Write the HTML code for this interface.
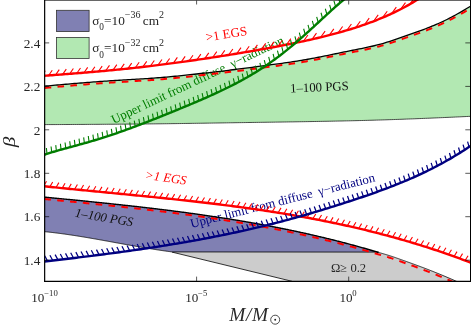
<!DOCTYPE html><html><head><meta charset="utf-8"><style>html,body{margin:0;padding:0;background:#fff}svg{display:block;will-change:transform}</style></head><body><svg width="471" height="327" viewBox="0 0 471 327">
<defs><clipPath id="c"><rect x="44.5" y="0" width="426.0" height="281.3"/></clipPath><mask id="tm"><rect width="471" height="327" fill="#fff"/></mask></defs>
<rect width="471" height="327" fill="#fff"/>
<g clip-path="url(#c)">
<path d="M44.50,86.20 L46.64,86.00 L48.78,85.80 L50.92,85.60 L53.06,85.40 L55.20,85.21 L57.34,85.02 L59.48,84.82 L61.63,84.63 L63.77,84.44 L65.91,84.25 L68.05,84.07 L70.19,83.88 L72.33,83.70 L74.47,83.52 L76.61,83.34 L78.75,83.16 L80.89,82.99 L83.03,82.81 L85.17,82.64 L87.31,82.47 L89.45,82.30 L91.60,82.13 L93.74,81.97 L95.88,81.81 L98.02,81.65 L100.16,81.49 L102.30,81.33 L104.44,81.18 L106.58,81.04 L108.72,80.89 L110.86,80.76 L113.00,80.62 L115.14,80.49 L117.28,80.35 L119.42,80.23 L121.57,80.10 L123.71,79.97 L125.85,79.84 L127.99,79.72 L130.13,79.59 L132.27,79.47 L134.41,79.34 L136.55,79.21 L138.69,79.08 L140.83,78.95 L142.97,78.81 L145.11,78.67 L147.25,78.53 L149.39,78.39 L151.54,78.24 L153.68,78.08 L155.82,77.92 L157.96,77.76 L160.10,77.59 L162.24,77.42 L164.38,77.24 L166.52,77.05 L168.66,76.86 L170.80,76.66 L172.94,76.46 L175.08,76.25 L177.22,76.04 L179.36,75.83 L181.51,75.61 L183.65,75.39 L185.79,75.17 L187.93,74.94 L190.07,74.71 L192.21,74.47 L194.35,74.24 L196.49,74.00 L198.63,73.76 L200.77,73.52 L202.91,73.27 L205.05,73.03 L207.19,72.78 L209.33,72.53 L211.47,72.29 L213.62,72.04 L215.76,71.79 L217.90,71.54 L220.04,71.30 L222.18,71.05 L224.32,70.79 L226.46,70.54 L228.60,70.28 L230.74,70.02 L232.88,69.75 L235.02,69.49 L237.16,69.22 L239.30,68.94 L241.44,68.67 L243.59,68.39 L245.73,68.12 L247.87,67.84 L250.01,67.56 L252.15,67.28 L254.29,66.99 L256.43,66.71 L258.57,66.42 L260.71,66.14 L262.85,65.86 L264.99,65.58 L267.13,65.29 L269.27,65.01 L271.41,64.73 L273.56,64.44 L275.70,64.16 L277.84,63.87 L279.98,63.57 L282.12,63.28 L284.26,62.98 L286.40,62.67 L288.54,62.36 L290.68,62.05 L292.82,61.73 L294.96,61.40 L297.10,61.06 L299.24,60.72 L301.38,60.37 L303.53,60.01 L305.67,59.64 L307.81,59.26 L309.95,58.87 L312.09,58.48 L314.23,58.07 L316.37,57.66 L318.51,57.24 L320.65,56.82 L322.79,56.39 L324.93,55.96 L327.07,55.53 L329.21,55.09 L331.35,54.65 L333.49,54.20 L335.64,53.76 L337.78,53.32 L339.92,52.87 L342.06,52.43 L344.20,51.98 L346.34,51.54 L348.48,51.10 L350.62,50.67 L352.76,50.24 L354.90,49.82 L357.04,49.39 L359.18,48.97 L361.32,48.54 L363.46,48.10 L365.61,47.66 L367.75,47.20 L369.89,46.73 L372.03,46.25 L374.17,45.75 L376.31,45.23 L378.45,44.68 L380.59,44.11 L382.73,43.51 L384.87,42.88 L387.01,42.23 L389.15,41.56 L391.29,40.87 L393.43,40.16 L395.58,39.43 L397.72,38.70 L399.86,37.96 L402.00,37.21 L404.14,36.46 L406.28,35.70 L408.42,34.95 L410.56,34.20 L412.70,33.45 L414.84,32.69 L416.98,31.92 L419.12,31.15 L421.26,30.36 L423.40,29.57 L425.55,28.76 L427.69,27.93 L429.83,27.09 L431.97,26.22 L434.11,25.34 L436.25,24.43 L438.39,23.50 L440.53,22.53 L442.67,21.54 L444.81,20.52 L446.95,19.46 L449.09,18.38 L451.23,17.27 L453.37,16.14 L455.52,14.97 L457.66,13.79 L459.80,12.58 L461.94,11.34 L464.08,10.09 L466.22,8.81 L468.36,7.51 L470.50,6.19 L470.50,116.32 L468.36,116.43 L466.22,116.53 L464.08,116.63 L461.94,116.73 L459.80,116.83 L457.66,116.93 L455.52,117.03 L453.37,117.13 L451.23,117.22 L449.09,117.32 L446.95,117.42 L444.81,117.51 L442.67,117.61 L440.53,117.70 L438.39,117.79 L436.25,117.89 L434.11,117.98 L431.97,118.07 L429.83,118.16 L427.69,118.25 L425.55,118.34 L423.40,118.43 L421.26,118.51 L419.12,118.60 L416.98,118.68 L414.84,118.77 L412.70,118.85 L410.56,118.93 L408.42,119.01 L406.28,119.09 L404.14,119.17 L402.00,119.25 L399.86,119.33 L397.72,119.41 L395.58,119.48 L393.43,119.55 L391.29,119.63 L389.15,119.70 L387.01,119.77 L384.87,119.84 L382.73,119.91 L380.59,119.97 L378.45,120.04 L376.31,120.10 L374.17,120.17 L372.03,120.23 L369.89,120.29 L367.75,120.35 L365.61,120.41 L363.46,120.47 L361.32,120.52 L359.18,120.57 L357.04,120.63 L354.90,120.68 L352.76,120.73 L350.62,120.78 L348.48,120.83 L346.34,120.87 L344.20,120.92 L342.06,120.97 L339.92,121.01 L337.78,121.06 L335.64,121.10 L333.49,121.14 L331.35,121.19 L329.21,121.23 L327.07,121.27 L324.93,121.31 L322.79,121.35 L320.65,121.39 L318.51,121.43 L316.37,121.47 L314.23,121.50 L312.09,121.54 L309.95,121.58 L307.81,121.61 L305.67,121.65 L303.53,121.69 L301.38,121.72 L299.24,121.76 L297.10,121.79 L294.96,121.82 L292.82,121.86 L290.68,121.89 L288.54,121.92 L286.40,121.96 L284.26,121.99 L282.12,122.02 L279.98,122.05 L277.84,122.09 L275.70,122.12 L273.56,122.15 L271.41,122.18 L269.27,122.21 L267.13,122.24 L264.99,122.28 L262.85,122.31 L260.71,122.34 L258.57,122.37 L256.43,122.40 L254.29,122.43 L252.15,122.46 L250.01,122.49 L247.87,122.52 L245.73,122.56 L243.59,122.59 L241.44,122.62 L239.30,122.65 L237.16,122.68 L235.02,122.71 L232.88,122.75 L230.74,122.78 L228.60,122.81 L226.46,122.84 L224.32,122.88 L222.18,122.91 L220.04,122.94 L217.90,122.98 L215.76,123.01 L213.62,123.04 L211.47,123.08 L209.33,123.11 L207.19,123.14 L205.05,123.17 L202.91,123.21 L200.77,123.24 L198.63,123.27 L196.49,123.30 L194.35,123.33 L192.21,123.37 L190.07,123.40 L187.93,123.43 L185.79,123.46 L183.65,123.49 L181.51,123.52 L179.36,123.55 L177.22,123.58 L175.08,123.61 L172.94,123.64 L170.80,123.66 L168.66,123.69 L166.52,123.72 L164.38,123.74 L162.24,123.77 L160.10,123.80 L157.96,123.82 L155.82,123.84 L153.68,123.87 L151.54,123.89 L149.39,123.91 L147.25,123.93 L145.11,123.95 L142.97,123.97 L140.83,123.99 L138.69,124.01 L136.55,124.03 L134.41,124.05 L132.27,124.07 L130.13,124.08 L127.99,124.10 L125.85,124.12 L123.71,124.14 L121.57,124.15 L119.42,124.17 L117.28,124.19 L115.14,124.20 L113.00,124.22 L110.86,124.24 L108.72,124.25 L106.58,124.27 L104.44,124.29 L102.30,124.30 L100.16,124.32 L98.02,124.33 L95.88,124.35 L93.74,124.36 L91.60,124.37 L89.45,124.39 L87.31,124.40 L85.17,124.42 L83.03,124.43 L80.89,124.44 L78.75,124.45 L76.61,124.47 L74.47,124.48 L72.33,124.49 L70.19,124.50 L68.05,124.51 L65.91,124.52 L63.77,124.53 L61.63,124.54 L59.48,124.55 L57.34,124.56 L55.20,124.57 L53.06,124.57 L50.92,124.58 L48.78,124.59 L46.64,124.59 L44.50,124.60Z" fill="#b2e8b2" stroke="none"/>
<path d="M44.50,124.60 L46.64,124.59 L48.78,124.59 L50.92,124.58 L53.06,124.57 L55.20,124.57 L57.34,124.56 L59.48,124.55 L61.63,124.54 L63.77,124.53 L65.91,124.52 L68.05,124.51 L70.19,124.50 L72.33,124.49 L74.47,124.48 L76.61,124.47 L78.75,124.45 L80.89,124.44 L83.03,124.43 L85.17,124.42 L87.31,124.40 L89.45,124.39 L91.60,124.37 L93.74,124.36 L95.88,124.35 L98.02,124.33 L100.16,124.32 L102.30,124.30 L104.44,124.29 L106.58,124.27 L108.72,124.25 L110.86,124.24 L113.00,124.22 L115.14,124.20 L117.28,124.19 L119.42,124.17 L121.57,124.15 L123.71,124.14 L125.85,124.12 L127.99,124.10 L130.13,124.08 L132.27,124.07 L134.41,124.05 L136.55,124.03 L138.69,124.01 L140.83,123.99 L142.97,123.97 L145.11,123.95 L147.25,123.93 L149.39,123.91 L151.54,123.89 L153.68,123.87 L155.82,123.84 L157.96,123.82 L160.10,123.80 L162.24,123.77 L164.38,123.74 L166.52,123.72 L168.66,123.69 L170.80,123.66 L172.94,123.64 L175.08,123.61 L177.22,123.58 L179.36,123.55 L181.51,123.52 L183.65,123.49 L185.79,123.46 L187.93,123.43 L190.07,123.40 L192.21,123.37 L194.35,123.33 L196.49,123.30 L198.63,123.27 L200.77,123.24 L202.91,123.21 L205.05,123.17 L207.19,123.14 L209.33,123.11 L211.47,123.08 L213.62,123.04 L215.76,123.01 L217.90,122.98 L220.04,122.94 L222.18,122.91 L224.32,122.88 L226.46,122.84 L228.60,122.81 L230.74,122.78 L232.88,122.75 L235.02,122.71 L237.16,122.68 L239.30,122.65 L241.44,122.62 L243.59,122.59 L245.73,122.56 L247.87,122.52 L250.01,122.49 L252.15,122.46 L254.29,122.43 L256.43,122.40 L258.57,122.37 L260.71,122.34 L262.85,122.31 L264.99,122.28 L267.13,122.24 L269.27,122.21 L271.41,122.18 L273.56,122.15 L275.70,122.12 L277.84,122.09 L279.98,122.05 L282.12,122.02 L284.26,121.99 L286.40,121.96 L288.54,121.92 L290.68,121.89 L292.82,121.86 L294.96,121.82 L297.10,121.79 L299.24,121.76 L301.38,121.72 L303.53,121.69 L305.67,121.65 L307.81,121.61 L309.95,121.58 L312.09,121.54 L314.23,121.50 L316.37,121.47 L318.51,121.43 L320.65,121.39 L322.79,121.35 L324.93,121.31 L327.07,121.27 L329.21,121.23 L331.35,121.19 L333.49,121.14 L335.64,121.10 L337.78,121.06 L339.92,121.01 L342.06,120.97 L344.20,120.92 L346.34,120.87 L348.48,120.83 L350.62,120.78 L352.76,120.73 L354.90,120.68 L357.04,120.63 L359.18,120.57 L361.32,120.52 L363.46,120.47 L365.61,120.41 L367.75,120.35 L369.89,120.29 L372.03,120.23 L374.17,120.17 L376.31,120.10 L378.45,120.04 L380.59,119.97 L382.73,119.91 L384.87,119.84 L387.01,119.77 L389.15,119.70 L391.29,119.63 L393.43,119.55 L395.58,119.48 L397.72,119.41 L399.86,119.33 L402.00,119.25 L404.14,119.17 L406.28,119.09 L408.42,119.01 L410.56,118.93 L412.70,118.85 L414.84,118.77 L416.98,118.68 L419.12,118.60 L421.26,118.51 L423.40,118.43 L425.55,118.34 L427.69,118.25 L429.83,118.16 L431.97,118.07 L434.11,117.98 L436.25,117.89 L438.39,117.79 L440.53,117.70 L442.67,117.61 L444.81,117.51 L446.95,117.42 L449.09,117.32 L451.23,117.22 L453.37,117.13 L455.52,117.03 L457.66,116.93 L459.80,116.83 L461.94,116.73 L464.08,116.63 L466.22,116.53 L468.36,116.43 L470.50,116.32" fill="none" stroke="#222" stroke-width="0.8"/>
<path d="M172,252.1 L378.6,252.1 L378.60,252.47 L379.59,252.73 L380.58,253.01 L381.58,253.28 L382.57,253.56 L383.56,253.85 L384.55,254.14 L385.55,254.43 L386.54,254.73 L387.53,255.03 L388.52,255.34 L389.52,255.65 L390.51,255.96 L391.50,256.28 L392.49,256.61 L393.49,256.94 L394.48,257.28 L395.47,257.63 L396.46,257.97 L397.46,258.32 L398.45,258.68 L399.44,259.03 L400.43,259.38 L401.43,259.74 L402.42,260.09 L403.41,260.45 L404.40,260.80 L405.39,261.15 L406.39,261.51 L407.38,261.86 L408.37,262.22 L409.36,262.57 L410.36,262.93 L411.35,263.29 L412.34,263.65 L413.33,264.01 L414.33,264.37 L415.32,264.73 L416.31,265.10 L417.30,265.46 L418.30,265.83 L419.29,266.20 L420.28,266.57 L421.27,266.94 L422.27,267.31 L423.26,267.68 L424.25,268.06 L425.24,268.44 L426.24,268.82 L427.23,269.20 L428.22,269.59 L429.21,269.97 L430.21,270.36 L431.20,270.75 L432.19,271.14 L433.18,271.54 L434.17,271.93 L435.17,272.33 L436.16,272.73 L437.15,273.14 L438.14,273.54 L439.14,273.95 L440.13,274.35 L441.12,274.76 L442.11,275.17 L443.11,275.59 L444.10,276.00 L445.09,276.42 L446.08,276.84 L447.08,277.25 L448.07,277.68 L449.06,278.10 L450.05,278.52 L451.05,278.95 L452.04,279.38 L453.03,279.82 L454.02,280.26 L455.02,280.71 L456.01,281.15 L457.00,281.60 L457,281.3 L292,281.3 L292.00,281.30 L172.00,252.10Z" fill="#cccccc" stroke="none"/>
<path d="M172.00,252.10 L292.00,281.30" fill="none" stroke="#000" stroke-width="0.8"/>
<path d="M44.50,197.11 L45.34,197.20 L46.17,197.28 L47.01,197.36 L47.85,197.44 L48.69,197.52 L49.52,197.60 L50.36,197.69 L51.20,197.77 L52.04,197.85 L52.87,197.93 L53.71,198.01 L54.55,198.09 L55.39,198.18 L56.22,198.26 L57.06,198.34 L57.90,198.42 L58.73,198.50 L59.57,198.59 L60.41,198.67 L61.25,198.75 L62.08,198.83 L62.92,198.91 L63.76,199.00 L64.60,199.08 L65.43,199.16 L66.27,199.24 L67.11,199.33 L67.95,199.41 L68.78,199.49 L69.62,199.57 L70.46,199.66 L71.29,199.74 L72.13,199.82 L72.97,199.90 L73.81,199.99 L74.64,200.07 L75.48,200.15 L76.32,200.24 L77.16,200.32 L77.99,200.40 L78.83,200.49 L79.67,200.57 L80.51,200.65 L81.34,200.74 L82.18,200.82 L83.02,200.90 L83.86,200.99 L84.69,201.07 L85.53,201.16 L86.37,201.24 L87.20,201.32 L88.04,201.41 L88.88,201.49 L89.72,201.58 L90.55,201.66 L91.39,201.75 L92.23,201.83 L93.07,201.92 L93.90,202.00 L94.74,202.09 L95.58,202.18 L96.42,202.26 L97.25,202.35 L98.09,202.43 L98.93,202.52 L99.76,202.61 L100.60,202.69 L101.44,202.78 L102.28,202.87 L103.11,202.95 L103.95,203.04 L104.79,203.13 L105.63,203.21 L106.46,203.30 L107.30,203.39 L108.14,203.48 L108.98,203.56 L109.81,203.65 L110.65,203.74 L111.49,203.83 L112.32,203.92 L113.16,204.01 L114.00,204.10 L114.84,204.18 L115.67,204.27 L116.51,204.36 L117.35,204.45 L118.19,204.54 L119.02,204.63 L119.86,204.72 L120.70,204.81 L121.54,204.91 L122.37,205.00 L123.21,205.09 L124.05,205.18 L124.88,205.27 L125.72,205.36 L126.56,205.45 L127.40,205.55 L128.23,205.64 L129.07,205.73 L129.91,205.82 L130.75,205.92 L131.58,206.01 L132.42,206.10 L133.26,206.20 L134.10,206.29 L134.93,206.38 L135.77,206.48 L136.61,206.57 L137.45,206.67 L138.28,206.76 L139.12,206.86 L139.96,206.95 L140.79,207.05 L141.63,207.15 L142.47,207.24 L143.31,207.34 L144.14,207.44 L144.98,207.53 L145.82,207.63 L146.66,207.73 L147.49,207.83 L148.33,207.92 L149.17,208.02 L150.01,208.12 L150.84,208.22 L151.68,208.32 L152.52,208.42 L153.35,208.52 L154.19,208.62 L155.03,208.72 L155.87,208.82 L156.70,208.92 L157.54,209.02 L158.38,209.12 L159.22,209.22 L160.05,209.33 L160.89,209.43 L161.73,209.53 L162.57,209.63 L163.40,209.74 L164.24,209.84 L165.08,209.94 L165.91,210.05 L166.75,210.15 L167.59,210.26 L168.43,210.36 L169.26,210.47 L170.10,210.57 L170.94,210.68 L171.78,210.79 L172.61,210.89 L173.45,211.00 L174.29,211.11 L175.13,211.22 L175.96,211.32 L176.80,211.43 L177.64,211.54 L178.47,211.65 L179.31,211.76 L180.15,211.87 L180.99,211.98 L181.82,212.09 L182.66,212.20 L183.50,212.31 L184.34,212.42 L185.17,212.54 L186.01,212.65 L186.85,212.76 L187.69,212.87 L188.52,212.99 L189.36,213.10 L190.20,213.21 L191.04,213.33 L191.87,213.44 L192.71,213.56 L193.55,213.67 L194.38,213.79 L195.22,213.91 L196.06,214.02 L196.90,214.14 L197.73,214.26 L198.57,214.38 L199.41,214.49 L200.25,214.61 L201.08,214.73 L201.92,214.85 L202.76,214.97 L203.60,215.09 L204.43,215.21 L205.27,215.33 L206.11,215.46 L206.94,215.58 L207.78,215.70 L208.62,215.82 L209.46,215.95 L210.29,216.07 L211.13,216.19 L211.97,216.32 L212.81,216.44 L213.64,216.57 L214.48,216.69 L215.32,216.82 L216.16,216.95 L216.99,217.07 L217.83,217.20 L218.67,217.33 L219.50,217.46 L220.34,217.59 L221.18,217.72 L222.02,217.85 L222.85,217.98 L223.69,218.11 L224.53,218.24 L225.37,218.37 L226.20,218.50 L227.04,218.64 L227.88,218.77 L228.72,218.90 L229.55,219.04 L230.39,219.17 L231.23,219.31 L232.06,219.44 L232.90,219.58 L233.74,219.71 L234.58,219.85 L235.41,219.99 L236.25,220.13 L237.09,220.26 L237.93,220.40 L238.76,220.54 L239.60,220.68 L240.44,220.82 L241.28,220.96 L242.11,221.10 L242.95,221.25 L243.79,221.39 L244.63,221.53 L245.46,221.67 L246.30,221.82 L247.14,221.96 L247.97,222.11 L248.81,222.25 L249.65,222.40 L250.49,222.55 L251.32,222.69 L252.16,222.84 L253.00,222.99 L253.84,223.14 L254.67,223.29 L255.51,223.44 L256.35,223.59 L257.19,223.74 L258.02,223.89 L258.86,224.04 L259.70,224.19 L260.53,224.35 L261.37,224.50 L262.21,224.65 L263.05,224.81 L263.88,224.96 L264.72,225.12 L265.56,225.28 L266.40,225.43 L267.23,225.59 L268.07,225.75 L268.91,225.91 L269.75,226.07 L270.58,226.23 L271.42,226.39 L272.26,226.55 L273.09,226.71 L273.93,226.87 L274.77,227.03 L275.61,227.20 L276.44,227.36 L277.28,227.53 L278.12,227.69 L278.96,227.86 L279.79,228.02 L280.63,228.19 L281.47,228.36 L282.31,228.52 L283.14,228.69 L283.98,228.86 L284.82,229.03 L285.65,229.20 L286.49,229.37 L287.33,229.55 L288.17,229.72 L289.00,229.89 L289.84,230.07 L290.68,230.24 L291.52,230.41 L292.35,230.59 L293.19,230.77 L294.03,230.94 L294.87,231.12 L295.70,231.30 L296.54,231.48 L297.38,231.66 L298.22,231.84 L299.05,232.02 L299.89,232.20 L300.73,232.38 L301.56,232.56 L302.40,232.75 L303.24,232.93 L304.08,233.12 L304.91,233.30 L305.75,233.49 L306.59,233.67 L307.43,233.86 L308.26,234.05 L309.10,234.24 L309.94,234.43 L310.78,234.62 L311.61,234.81 L312.45,235.00 L313.29,235.19 L314.12,235.38 L314.96,235.58 L315.80,235.77 L316.64,235.97 L317.47,236.16 L318.31,236.36 L319.15,236.56 L319.99,236.75 L320.82,236.95 L321.66,237.15 L322.50,237.35 L323.34,237.55 L324.17,237.75 L325.01,237.95 L325.85,238.16 L326.68,238.36 L327.52,238.56 L328.36,238.77 L329.20,238.97 L330.03,239.18 L330.87,239.39 L331.71,239.60 L332.55,239.80 L333.38,240.01 L334.22,240.22 L335.06,240.43 L335.90,240.65 L336.73,240.86 L337.57,241.07 L338.41,241.28 L339.24,241.50 L340.08,241.71 L340.92,241.93 L341.76,242.15 L342.59,242.36 L343.43,242.58 L344.27,242.80 L345.11,243.02 L345.94,243.24 L346.78,243.46 L347.62,243.68 L348.46,243.91 L349.29,244.13 L350.13,244.36 L350.97,244.58 L351.81,244.81 L352.64,245.03 L353.48,245.26 L354.32,245.49 L355.15,245.72 L355.99,245.95 L356.83,246.18 L357.67,246.41 L358.50,246.64 L359.34,246.88 L360.18,247.11 L361.02,247.35 L361.85,247.58 L362.69,247.82 L363.53,248.05 L364.37,248.29 L365.20,248.53 L366.04,248.77 L366.88,249.01 L367.71,249.25 L368.55,249.50 L369.39,249.74 L370.23,249.98 L371.06,250.23 L371.90,250.47 L372.74,250.72 L373.58,250.97 L374.41,251.21 L375.25,251.46 L376.09,251.71 L376.93,251.96 L377.76,252.21 L378.60,252.47 L378.6,252.1 L172,252.1 L172.00,251.91 L171.36,251.82 L170.72,251.74 L170.08,251.65 L169.44,251.57 L168.80,251.48 L168.16,251.40 L167.52,251.31 L166.87,251.22 L166.23,251.13 L165.59,251.04 L164.95,250.95 L164.31,250.86 L163.67,250.77 L163.03,250.68 L162.39,250.58 L161.75,250.49 L161.11,250.39 L160.47,250.30 L159.83,250.20 L159.19,250.11 L158.55,250.01 L157.90,249.91 L157.26,249.82 L156.62,249.72 L155.98,249.62 L155.34,249.52 L154.70,249.42 L154.06,249.32 L153.42,249.22 L152.78,249.12 L152.14,249.01 L151.50,248.91 L150.86,248.81 L150.22,248.70 L149.58,248.60 L148.93,248.50 L148.29,248.39 L147.65,248.28 L147.01,248.18 L146.37,248.07 L145.73,247.97 L145.09,247.86 L144.45,247.75 L143.81,247.64 L143.17,247.53 L142.53,247.43 L141.89,247.32 L141.25,247.21 L140.61,247.10 L139.96,246.99 L139.32,246.88 L138.68,246.77 L138.04,246.65 L137.40,246.54 L136.76,246.43 L136.12,246.32 L135.48,246.21 L134.84,246.09 L134.20,245.98 L133.56,245.87 L132.92,245.76 L132.28,245.64 L131.64,245.53 L130.99,245.41 L130.35,245.30 L129.71,245.19 L129.07,245.07 L128.43,244.96 L127.79,244.84 L127.15,244.73 L126.51,244.61 L125.87,244.49 L125.23,244.38 L124.59,244.26 L123.95,244.15 L123.31,244.03 L122.67,243.92 L122.03,243.80 L121.38,243.68 L120.74,243.57 L120.10,243.45 L119.46,243.33 L118.82,243.22 L118.18,243.10 L117.54,242.98 L116.90,242.87 L116.26,242.75 L115.62,242.63 L114.98,242.52 L114.34,242.40 L113.70,242.28 L113.06,242.17 L112.41,242.05 L111.77,241.93 L111.13,241.82 L110.49,241.70 L109.85,241.58 L109.21,241.47 L108.57,241.35 L107.93,241.24 L107.29,241.12 L106.65,241.00 L106.01,240.89 L105.37,240.77 L104.73,240.66 L104.09,240.54 L103.44,240.43 L102.80,240.31 L102.16,240.20 L101.52,240.08 L100.88,239.97 L100.24,239.85 L99.60,239.74 L98.96,239.62 L98.32,239.51 L97.68,239.40 L97.04,239.28 L96.40,239.17 L95.76,239.06 L95.12,238.94 L94.47,238.83 L93.83,238.72 L93.19,238.61 L92.55,238.50 L91.91,238.39 L91.27,238.28 L90.63,238.17 L89.99,238.06 L89.35,237.95 L88.71,237.84 L88.07,237.73 L87.43,237.62 L86.79,237.51 L86.15,237.40 L85.51,237.30 L84.86,237.19 L84.22,237.08 L83.58,236.98 L82.94,236.87 L82.30,236.77 L81.66,236.66 L81.02,236.56 L80.38,236.45 L79.74,236.35 L79.10,236.25 L78.46,236.14 L77.82,236.04 L77.18,235.94 L76.54,235.84 L75.89,235.74 L75.25,235.64 L74.61,235.54 L73.97,235.44 L73.33,235.34 L72.69,235.25 L72.05,235.15 L71.41,235.05 L70.77,234.96 L70.13,234.86 L69.49,234.77 L68.85,234.67 L68.21,234.58 L67.57,234.49 L66.92,234.39 L66.28,234.30 L65.64,234.21 L65.00,234.12 L64.36,234.03 L63.72,233.94 L63.08,233.86 L62.44,233.77 L61.80,233.68 L61.16,233.60 L60.52,233.51 L59.88,233.43 L59.24,233.34 L58.60,233.26 L57.95,233.18 L57.31,233.10 L56.67,233.02 L56.03,232.94 L55.39,232.86 L54.75,232.78 L54.11,232.70 L53.47,232.63 L52.83,232.55 L52.19,232.48 L51.55,232.40 L50.91,232.33 L50.27,232.26 L49.63,232.19 L48.98,232.12 L48.34,232.05 L47.70,231.98 L47.06,231.91 L46.42,231.85 L45.78,231.78 L45.14,231.72 L44.50,231.65Z" fill="#8080b3" stroke="none"/>
<path d="M44.50,231.65 L45.14,231.72 L45.78,231.78 L46.42,231.85 L47.06,231.91 L47.70,231.98 L48.34,232.05 L48.98,232.12 L49.63,232.19 L50.27,232.26 L50.91,232.33 L51.55,232.40 L52.19,232.48 L52.83,232.55 L53.47,232.63 L54.11,232.70 L54.75,232.78 L55.39,232.86 L56.03,232.94 L56.67,233.02 L57.31,233.10 L57.95,233.18 L58.60,233.26 L59.24,233.34 L59.88,233.43 L60.52,233.51 L61.16,233.60 L61.80,233.68 L62.44,233.77 L63.08,233.86 L63.72,233.94 L64.36,234.03 L65.00,234.12 L65.64,234.21 L66.28,234.30 L66.92,234.39 L67.57,234.49 L68.21,234.58 L68.85,234.67 L69.49,234.77 L70.13,234.86 L70.77,234.96 L71.41,235.05 L72.05,235.15 L72.69,235.25 L73.33,235.34 L73.97,235.44 L74.61,235.54 L75.25,235.64 L75.89,235.74 L76.54,235.84 L77.18,235.94 L77.82,236.04 L78.46,236.14 L79.10,236.25 L79.74,236.35 L80.38,236.45 L81.02,236.56 L81.66,236.66 L82.30,236.77 L82.94,236.87 L83.58,236.98 L84.22,237.08 L84.86,237.19 L85.51,237.30 L86.15,237.40 L86.79,237.51 L87.43,237.62 L88.07,237.73 L88.71,237.84 L89.35,237.95 L89.99,238.06 L90.63,238.17 L91.27,238.28 L91.91,238.39 L92.55,238.50 L93.19,238.61 L93.83,238.72 L94.47,238.83 L95.12,238.94 L95.76,239.06 L96.40,239.17 L97.04,239.28 L97.68,239.40 L98.32,239.51 L98.96,239.62 L99.60,239.74 L100.24,239.85 L100.88,239.97 L101.52,240.08 L102.16,240.20 L102.80,240.31 L103.44,240.43 L104.09,240.54 L104.73,240.66 L105.37,240.77 L106.01,240.89 L106.65,241.00 L107.29,241.12 L107.93,241.24 L108.57,241.35 L109.21,241.47 L109.85,241.58 L110.49,241.70 L111.13,241.82 L111.77,241.93 L112.41,242.05 L113.06,242.17 L113.70,242.28 L114.34,242.40 L114.98,242.52 L115.62,242.63 L116.26,242.75 L116.90,242.87 L117.54,242.98 L118.18,243.10 L118.82,243.22 L119.46,243.33 L120.10,243.45 L120.74,243.57 L121.38,243.68 L122.03,243.80 L122.67,243.92 L123.31,244.03 L123.95,244.15 L124.59,244.26 L125.23,244.38 L125.87,244.49 L126.51,244.61 L127.15,244.73 L127.79,244.84 L128.43,244.96 L129.07,245.07 L129.71,245.19 L130.35,245.30 L130.99,245.41 L131.64,245.53 L132.28,245.64 L132.92,245.76 L133.56,245.87 L134.20,245.98 L134.84,246.09 L135.48,246.21 L136.12,246.32 L136.76,246.43 L137.40,246.54 L138.04,246.65 L138.68,246.77 L139.32,246.88 L139.96,246.99 L140.61,247.10 L141.25,247.21 L141.89,247.32 L142.53,247.43 L143.17,247.53 L143.81,247.64 L144.45,247.75 L145.09,247.86 L145.73,247.97 L146.37,248.07 L147.01,248.18 L147.65,248.28 L148.29,248.39 L148.93,248.50 L149.58,248.60 L150.22,248.70 L150.86,248.81 L151.50,248.91 L152.14,249.01 L152.78,249.12 L153.42,249.22 L154.06,249.32 L154.70,249.42 L155.34,249.52 L155.98,249.62 L156.62,249.72 L157.26,249.82 L157.90,249.91 L158.55,250.01 L159.19,250.11 L159.83,250.20 L160.47,250.30 L161.11,250.39 L161.75,250.49 L162.39,250.58 L163.03,250.68 L163.67,250.77 L164.31,250.86 L164.95,250.95 L165.59,251.04 L166.23,251.13 L166.87,251.22 L167.52,251.31 L168.16,251.40 L168.80,251.48 L169.44,251.57 L170.08,251.65 L170.72,251.74 L171.36,251.82 L172.00,251.91 L378.6,252.1" fill="none" stroke="#000" stroke-width="0.8"/>
<g mask="url(#tm)"><text transform="translate(206.5,41.6) rotate(-9.2)" font-family="Liberation Serif, serif" font-size="13" fill="#ff0000" >&gt;1 EGS</text><text transform="translate(144.6,178.8) rotate(8)" font-family="Liberation Serif, serif" font-size="12.8" fill="#ff0000" font-style="italic">&gt;1 EGS</text><text transform="translate(290.3,92.5) rotate(-2.5)" font-family="Liberation Serif, serif" font-size="12.8" fill="#111" >1–100 PGS</text><text transform="translate(74.5,216.8) rotate(9.3)" font-family="Liberation Serif, serif" font-size="12.8" fill="#111" font-style="italic">1–100 PGS</text><text transform="translate(113.8,124) rotate(-25.3)" font-family="Liberation Serif, serif" font-size="12.7" fill="#007d00" >Upper limit from diffuse&#160;&#160;γ−radiation</text><text transform="translate(191.5,227.9) rotate(-14.2)" font-family="Liberation Serif, serif" font-size="12.75" fill="#000080" >Upper limit from diffuse&#160;&#160;γ−radiation</text></g>
<path d="M44.50,86.20 L46.64,86.00 L48.78,85.80 L50.92,85.60 L53.06,85.40 L55.20,85.21 L57.34,85.02 L59.48,84.82 L61.63,84.63 L63.77,84.44 L65.91,84.25 L68.05,84.07 L70.19,83.88 L72.33,83.70 L74.47,83.52 L76.61,83.34 L78.75,83.16 L80.89,82.99 L83.03,82.81 L85.17,82.64 L87.31,82.47 L89.45,82.30 L91.60,82.13 L93.74,81.97 L95.88,81.81 L98.02,81.65 L100.16,81.49 L102.30,81.33 L104.44,81.18 L106.58,81.04 L108.72,80.89 L110.86,80.76 L113.00,80.62 L115.14,80.49 L117.28,80.35 L119.42,80.23 L121.57,80.10 L123.71,79.97 L125.85,79.84 L127.99,79.72 L130.13,79.59 L132.27,79.47 L134.41,79.34 L136.55,79.21 L138.69,79.08 L140.83,78.95 L142.97,78.81 L145.11,78.67 L147.25,78.53 L149.39,78.39 L151.54,78.24 L153.68,78.08 L155.82,77.92 L157.96,77.76 L160.10,77.59 L162.24,77.42 L164.38,77.24 L166.52,77.05 L168.66,76.86 L170.80,76.66 L172.94,76.46 L175.08,76.25 L177.22,76.04 L179.36,75.83 L181.51,75.61 L183.65,75.39 L185.79,75.17 L187.93,74.94 L190.07,74.71 L192.21,74.47 L194.35,74.24 L196.49,74.00 L198.63,73.76 L200.77,73.52 L202.91,73.27 L205.05,73.03 L207.19,72.78 L209.33,72.53 L211.47,72.29 L213.62,72.04 L215.76,71.79 L217.90,71.54 L220.04,71.30 L222.18,71.05 L224.32,70.79 L226.46,70.54 L228.60,70.28 L230.74,70.02 L232.88,69.75 L235.02,69.49 L237.16,69.22 L239.30,68.94 L241.44,68.67 L243.59,68.39 L245.73,68.12 L247.87,67.84 L250.01,67.56 L252.15,67.28 L254.29,66.99 L256.43,66.71 L258.57,66.42 L260.71,66.14 L262.85,65.86 L264.99,65.58 L267.13,65.29 L269.27,65.01 L271.41,64.73 L273.56,64.44 L275.70,64.16 L277.84,63.87 L279.98,63.57 L282.12,63.28 L284.26,62.98 L286.40,62.67 L288.54,62.36 L290.68,62.05 L292.82,61.73 L294.96,61.40 L297.10,61.06 L299.24,60.72 L301.38,60.37 L303.53,60.01 L305.67,59.64 L307.81,59.26 L309.95,58.87 L312.09,58.48 L314.23,58.07 L316.37,57.66 L318.51,57.24 L320.65,56.82 L322.79,56.39 L324.93,55.96 L327.07,55.53 L329.21,55.09 L331.35,54.65 L333.49,54.20 L335.64,53.76 L337.78,53.32 L339.92,52.87 L342.06,52.43 L344.20,51.98 L346.34,51.54 L348.48,51.10 L350.62,50.67 L352.76,50.24 L354.90,49.82 L357.04,49.39 L359.18,48.97 L361.32,48.54 L363.46,48.10 L365.61,47.66 L367.75,47.20 L369.89,46.73 L372.03,46.25 L374.17,45.75 L376.31,45.23 L378.45,44.68 L380.59,44.11 L382.73,43.51 L384.87,42.88 L387.01,42.23 L389.15,41.56 L391.29,40.87 L393.43,40.16 L395.58,39.43 L397.72,38.70 L399.86,37.96 L402.00,37.21 L404.14,36.46 L406.28,35.70 L408.42,34.95 L410.56,34.20 L412.70,33.45 L414.84,32.69 L416.98,31.92 L419.12,31.15 L421.26,30.36 L423.40,29.57 L425.55,28.76 L427.69,27.93 L429.83,27.09 L431.97,26.22 L434.11,25.34 L436.25,24.43 L438.39,23.50 L440.53,22.53 L442.67,21.54 L444.81,20.52 L446.95,19.46 L449.09,18.38 L451.23,17.27 L453.37,16.14 L455.52,14.97 L457.66,13.79 L459.80,12.58 L461.94,11.34 L464.08,10.09 L466.22,8.81 L468.36,7.51 L470.50,6.19" fill="none" stroke="#000" stroke-width="1.3"/>
<path d="M44.50,197.11 L45.34,197.20 L46.17,197.28 L47.01,197.36 L47.85,197.44 L48.69,197.52 L49.52,197.60 L50.36,197.69 L51.20,197.77 L52.04,197.85 L52.87,197.93 L53.71,198.01 L54.55,198.09 L55.39,198.18 L56.22,198.26 L57.06,198.34 L57.90,198.42 L58.73,198.50 L59.57,198.59 L60.41,198.67 L61.25,198.75 L62.08,198.83 L62.92,198.91 L63.76,199.00 L64.60,199.08 L65.43,199.16 L66.27,199.24 L67.11,199.33 L67.95,199.41 L68.78,199.49 L69.62,199.57 L70.46,199.66 L71.29,199.74 L72.13,199.82 L72.97,199.90 L73.81,199.99 L74.64,200.07 L75.48,200.15 L76.32,200.24 L77.16,200.32 L77.99,200.40 L78.83,200.49 L79.67,200.57 L80.51,200.65 L81.34,200.74 L82.18,200.82 L83.02,200.90 L83.86,200.99 L84.69,201.07 L85.53,201.16 L86.37,201.24 L87.20,201.32 L88.04,201.41 L88.88,201.49 L89.72,201.58 L90.55,201.66 L91.39,201.75 L92.23,201.83 L93.07,201.92 L93.90,202.00 L94.74,202.09 L95.58,202.18 L96.42,202.26 L97.25,202.35 L98.09,202.43 L98.93,202.52 L99.76,202.61 L100.60,202.69 L101.44,202.78 L102.28,202.87 L103.11,202.95 L103.95,203.04 L104.79,203.13 L105.63,203.21 L106.46,203.30 L107.30,203.39 L108.14,203.48 L108.98,203.56 L109.81,203.65 L110.65,203.74 L111.49,203.83 L112.32,203.92 L113.16,204.01 L114.00,204.10 L114.84,204.18 L115.67,204.27 L116.51,204.36 L117.35,204.45 L118.19,204.54 L119.02,204.63 L119.86,204.72 L120.70,204.81 L121.54,204.91 L122.37,205.00 L123.21,205.09 L124.05,205.18 L124.88,205.27 L125.72,205.36 L126.56,205.45 L127.40,205.55 L128.23,205.64 L129.07,205.73 L129.91,205.82 L130.75,205.92 L131.58,206.01 L132.42,206.10 L133.26,206.20 L134.10,206.29 L134.93,206.38 L135.77,206.48 L136.61,206.57 L137.45,206.67 L138.28,206.76 L139.12,206.86 L139.96,206.95 L140.79,207.05 L141.63,207.15 L142.47,207.24 L143.31,207.34 L144.14,207.44 L144.98,207.53 L145.82,207.63 L146.66,207.73 L147.49,207.83 L148.33,207.92 L149.17,208.02 L150.01,208.12 L150.84,208.22 L151.68,208.32 L152.52,208.42 L153.35,208.52 L154.19,208.62 L155.03,208.72 L155.87,208.82 L156.70,208.92 L157.54,209.02 L158.38,209.12 L159.22,209.22 L160.05,209.33 L160.89,209.43 L161.73,209.53 L162.57,209.63 L163.40,209.74 L164.24,209.84 L165.08,209.94 L165.91,210.05 L166.75,210.15 L167.59,210.26 L168.43,210.36 L169.26,210.47 L170.10,210.57 L170.94,210.68 L171.78,210.79 L172.61,210.89 L173.45,211.00 L174.29,211.11 L175.13,211.22 L175.96,211.32 L176.80,211.43 L177.64,211.54 L178.47,211.65 L179.31,211.76 L180.15,211.87 L180.99,211.98 L181.82,212.09 L182.66,212.20 L183.50,212.31 L184.34,212.42 L185.17,212.54 L186.01,212.65 L186.85,212.76 L187.69,212.87 L188.52,212.99 L189.36,213.10 L190.20,213.21 L191.04,213.33 L191.87,213.44 L192.71,213.56 L193.55,213.67 L194.38,213.79 L195.22,213.91 L196.06,214.02 L196.90,214.14 L197.73,214.26 L198.57,214.38 L199.41,214.49 L200.25,214.61 L201.08,214.73 L201.92,214.85 L202.76,214.97 L203.60,215.09 L204.43,215.21 L205.27,215.33 L206.11,215.46 L206.94,215.58 L207.78,215.70 L208.62,215.82 L209.46,215.95 L210.29,216.07 L211.13,216.19 L211.97,216.32 L212.81,216.44 L213.64,216.57 L214.48,216.69 L215.32,216.82 L216.16,216.95 L216.99,217.07 L217.83,217.20 L218.67,217.33 L219.50,217.46 L220.34,217.59 L221.18,217.72 L222.02,217.85 L222.85,217.98 L223.69,218.11 L224.53,218.24 L225.37,218.37 L226.20,218.50 L227.04,218.64 L227.88,218.77 L228.72,218.90 L229.55,219.04 L230.39,219.17 L231.23,219.31 L232.06,219.44 L232.90,219.58 L233.74,219.71 L234.58,219.85 L235.41,219.99 L236.25,220.13 L237.09,220.26 L237.93,220.40 L238.76,220.54 L239.60,220.68 L240.44,220.82 L241.28,220.96 L242.11,221.10 L242.95,221.25 L243.79,221.39 L244.63,221.53 L245.46,221.67 L246.30,221.82 L247.14,221.96 L247.97,222.11 L248.81,222.25 L249.65,222.40 L250.49,222.55 L251.32,222.69 L252.16,222.84 L253.00,222.99 L253.84,223.14 L254.67,223.29 L255.51,223.44 L256.35,223.59 L257.19,223.74 L258.02,223.89 L258.86,224.04 L259.70,224.19 L260.53,224.35 L261.37,224.50 L262.21,224.65 L263.05,224.81 L263.88,224.96 L264.72,225.12 L265.56,225.28 L266.40,225.43 L267.23,225.59 L268.07,225.75 L268.91,225.91 L269.75,226.07 L270.58,226.23 L271.42,226.39 L272.26,226.55 L273.09,226.71 L273.93,226.87 L274.77,227.03 L275.61,227.20 L276.44,227.36 L277.28,227.53 L278.12,227.69 L278.96,227.86 L279.79,228.02 L280.63,228.19 L281.47,228.36 L282.31,228.52 L283.14,228.69 L283.98,228.86 L284.82,229.03 L285.65,229.20 L286.49,229.37 L287.33,229.55 L288.17,229.72 L289.00,229.89 L289.84,230.07 L290.68,230.24 L291.52,230.41 L292.35,230.59 L293.19,230.77 L294.03,230.94 L294.87,231.12 L295.70,231.30 L296.54,231.48 L297.38,231.66 L298.22,231.84 L299.05,232.02 L299.89,232.20 L300.73,232.38 L301.56,232.56 L302.40,232.75 L303.24,232.93 L304.08,233.12 L304.91,233.30 L305.75,233.49 L306.59,233.67 L307.43,233.86 L308.26,234.05 L309.10,234.24 L309.94,234.43 L310.78,234.62 L311.61,234.81 L312.45,235.00 L313.29,235.19 L314.12,235.38 L314.96,235.58 L315.80,235.77 L316.64,235.97 L317.47,236.16 L318.31,236.36 L319.15,236.56 L319.99,236.75 L320.82,236.95 L321.66,237.15 L322.50,237.35 L323.34,237.55 L324.17,237.75 L325.01,237.95 L325.85,238.16 L326.68,238.36 L327.52,238.56 L328.36,238.77 L329.20,238.97 L330.03,239.18 L330.87,239.39 L331.71,239.60 L332.55,239.80 L333.38,240.01 L334.22,240.22 L335.06,240.43 L335.90,240.65 L336.73,240.86 L337.57,241.07 L338.41,241.28 L339.24,241.50 L340.08,241.71 L340.92,241.93 L341.76,242.15 L342.59,242.36 L343.43,242.58 L344.27,242.80 L345.11,243.02 L345.94,243.24 L346.78,243.46 L347.62,243.68 L348.46,243.91 L349.29,244.13 L350.13,244.36 L350.97,244.58 L351.81,244.81 L352.64,245.03 L353.48,245.26 L354.32,245.49 L355.15,245.72 L355.99,245.95 L356.83,246.18 L357.67,246.41 L358.50,246.64 L359.34,246.88 L360.18,247.11 L361.02,247.35 L361.85,247.58 L362.69,247.82 L363.53,248.05 L364.37,248.29 L365.20,248.53 L366.04,248.77 L366.88,249.01 L367.71,249.25 L368.55,249.50 L369.39,249.74 L370.23,249.98 L371.06,250.23 L371.90,250.47 L372.74,250.72 L373.58,250.97 L374.41,251.21 L375.25,251.46 L376.09,251.71 L376.93,251.96 L377.76,252.21 L378.60,252.47" fill="none" stroke="#000" stroke-width="1.4"/>
<path d="M378.60,252.47 L379.59,252.73 L380.58,253.01 L381.58,253.28 L382.57,253.56 L383.56,253.85 L384.55,254.14 L385.55,254.43 L386.54,254.73 L387.53,255.03 L388.52,255.34 L389.52,255.65 L390.51,255.96 L391.50,256.28 L392.49,256.61 L393.49,256.94 L394.48,257.28 L395.47,257.63 L396.46,257.97 L397.46,258.32 L398.45,258.68 L399.44,259.03 L400.43,259.38 L401.43,259.74 L402.42,260.09 L403.41,260.45 L404.40,260.80 L405.39,261.15 L406.39,261.51 L407.38,261.86 L408.37,262.22 L409.36,262.57 L410.36,262.93 L411.35,263.29 L412.34,263.65 L413.33,264.01 L414.33,264.37 L415.32,264.73 L416.31,265.10 L417.30,265.46 L418.30,265.83 L419.29,266.20 L420.28,266.57 L421.27,266.94 L422.27,267.31 L423.26,267.68 L424.25,268.06 L425.24,268.44 L426.24,268.82 L427.23,269.20 L428.22,269.59 L429.21,269.97 L430.21,270.36 L431.20,270.75 L432.19,271.14 L433.18,271.54 L434.17,271.93 L435.17,272.33 L436.16,272.73 L437.15,273.14 L438.14,273.54 L439.14,273.95 L440.13,274.35 L441.12,274.76 L442.11,275.17 L443.11,275.59 L444.10,276.00 L445.09,276.42 L446.08,276.84 L447.08,277.25 L448.07,277.68 L449.06,278.10 L450.05,278.52 L451.05,278.95 L452.04,279.38 L453.03,279.82 L454.02,280.26 L455.02,280.71 L456.01,281.15 L457.00,281.60" fill="none" stroke="#000" stroke-width="0.8"/>
<path d="M44.67,87.99 L46.81,87.79 L48.95,87.59 L51.09,87.39 L53.23,87.20 L55.37,87.00 L57.51,86.81 L59.65,86.62 L61.78,86.42 L63.92,86.24 L66.06,86.05 L68.20,85.86 L70.34,85.68 L72.48,85.49 L74.62,85.31 L76.76,85.13 L78.90,84.96 L81.04,84.78 L83.18,84.61 L85.32,84.43 L87.46,84.26 L89.60,84.10 L91.73,83.93 L93.87,83.77 L96.01,83.60 L98.15,83.44 L100.29,83.28 L102.43,83.13 L104.56,82.98 L106.70,82.83 L108.84,82.69 L110.98,82.55 L113.12,82.42 L115.25,82.28 L117.39,82.15 L119.53,82.02 L121.67,81.89 L123.81,81.77 L125.95,81.64 L128.09,81.52 L130.23,81.39 L132.38,81.26 L134.52,81.13 L136.66,81.01 L138.80,80.87 L140.94,80.74 L143.09,80.61 L145.23,80.47 L147.37,80.33 L149.52,80.18 L151.66,80.03 L153.81,79.88 L155.95,79.72 L158.10,79.56 L160.24,79.39 L162.39,79.21 L164.53,79.03 L166.68,78.84 L168.82,78.65 L170.97,78.45 L173.11,78.25 L175.26,78.05 L177.40,77.84 L179.55,77.62 L181.69,77.40 L183.83,77.18 L185.98,76.96 L188.12,76.73 L190.26,76.50 L192.40,76.26 L194.55,76.03 L196.69,75.79 L198.83,75.55 L200.97,75.30 L203.12,75.06 L205.26,74.82 L207.40,74.57 L209.54,74.32 L211.68,74.07 L213.82,73.83 L215.96,73.58 L218.10,73.33 L220.25,73.08 L222.39,72.83 L224.53,72.58 L226.67,72.33 L228.82,72.07 L230.96,71.80 L233.10,71.54 L235.25,71.27 L237.39,71.00 L239.53,70.73 L241.67,70.46 L243.82,70.18 L245.96,69.90 L248.10,69.62 L250.24,69.34 L252.38,69.06 L254.53,68.78 L256.67,68.49 L258.81,68.21 L260.95,67.93 L263.09,67.64 L265.23,67.36 L267.37,67.08 L269.51,66.80 L271.65,66.51 L273.79,66.23 L275.94,65.94 L278.08,65.65 L280.22,65.36 L282.37,65.06 L284.51,64.76 L286.66,64.45 L288.80,64.14 L290.95,63.83 L293.09,63.51 L295.24,63.18 L297.38,62.84 L299.53,62.50 L301.68,62.15 L303.83,61.79 L305.98,61.41 L308.12,61.03 L310.27,60.64 L312.42,60.24 L314.57,59.84 L316.71,59.43 L318.86,59.01 L321.00,58.59 L323.15,58.16 L325.29,57.73 L327.43,57.29 L329.58,56.85 L331.72,56.41 L333.86,55.97 L336.00,55.52 L338.14,55.08 L340.28,54.63 L342.42,54.19 L344.56,53.75 L346.70,53.30 L348.84,52.87 L350.98,52.43 L353.11,52.01 L355.25,51.58 L357.39,51.16 L359.54,50.73 L361.68,50.30 L363.83,49.86 L365.98,49.42 L368.13,48.96 L370.28,48.49 L372.43,48.00 L374.59,47.50 L376.74,46.97 L378.90,46.43 L381.07,45.85 L383.23,45.24 L385.39,44.61 L387.54,43.95 L389.70,43.27 L391.85,42.58 L394.01,41.86 L396.15,41.14 L398.30,40.40 L400.45,39.66 L402.59,38.91 L404.74,38.16 L406.88,37.40 L409.02,36.65 L411.16,35.90 L413.30,35.14 L415.45,34.38 L417.59,33.62 L419.74,32.84 L421.89,32.05 L424.04,31.25 L426.19,30.44 L428.34,29.61 L430.49,28.76 L432.65,27.89 L434.80,27.00 L436.96,26.08 L439.12,25.14 L441.28,24.17 L443.44,23.17 L445.60,22.14 L447.76,21.07 L449.91,19.98 L452.07,18.87 L454.23,17.72 L456.38,16.55 L458.54,15.36 L460.69,14.14 L462.84,12.90 L464.99,11.63 L467.15,10.35 L469.30,9.04 L471.44,7.72" fill="none" stroke="#ff0000" stroke-width="2" stroke-dasharray="6.6 6.3"/>
<path d="M44.32,199.01 L45.15,199.09 L45.99,199.17 L46.83,199.25 L47.67,199.33 L48.50,199.41 L49.34,199.50 L50.18,199.58 L51.01,199.66 L51.85,199.74 L52.69,199.82 L53.53,199.90 L54.36,199.99 L55.20,200.07 L56.04,200.15 L56.88,200.23 L57.71,200.31 L58.55,200.39 L59.39,200.48 L60.22,200.56 L61.06,200.64 L61.90,200.72 L62.74,200.80 L63.57,200.89 L64.41,200.97 L65.25,201.05 L66.08,201.13 L66.92,201.22 L67.76,201.30 L68.60,201.38 L69.43,201.46 L70.27,201.55 L71.11,201.63 L71.95,201.71 L72.78,201.79 L73.62,201.88 L74.46,201.96 L75.29,202.04 L76.13,202.13 L76.97,202.21 L77.81,202.29 L78.64,202.38 L79.48,202.46 L80.32,202.54 L81.15,202.63 L81.99,202.71 L82.83,202.79 L83.67,202.88 L84.50,202.96 L85.34,203.05 L86.18,203.13 L87.01,203.22 L87.85,203.30 L88.69,203.38 L89.53,203.47 L90.36,203.55 L91.20,203.64 L92.04,203.72 L92.87,203.81 L93.71,203.89 L94.55,203.98 L95.38,204.07 L96.22,204.15 L97.06,204.24 L97.90,204.32 L98.73,204.41 L99.57,204.50 L100.41,204.58 L101.24,204.67 L102.08,204.75 L102.92,204.84 L103.75,204.93 L104.59,205.02 L105.43,205.10 L106.27,205.19 L107.10,205.28 L107.94,205.37 L108.78,205.45 L109.61,205.54 L110.45,205.63 L111.29,205.72 L112.12,205.81 L112.96,205.90 L113.80,205.99 L114.64,206.07 L115.47,206.16 L116.31,206.25 L117.15,206.34 L117.98,206.43 L118.82,206.52 L119.66,206.61 L120.49,206.70 L121.33,206.79 L122.17,206.88 L123.00,206.98 L123.84,207.07 L124.68,207.16 L125.52,207.25 L126.35,207.34 L127.19,207.43 L128.03,207.53 L128.86,207.62 L129.70,207.71 L130.54,207.80 L131.37,207.90 L132.21,207.99 L133.05,208.08 L133.88,208.18 L134.72,208.27 L135.56,208.37 L136.39,208.46 L137.23,208.56 L138.07,208.65 L138.90,208.75 L139.74,208.84 L140.58,208.94 L141.42,209.03 L142.25,209.13 L143.09,209.23 L143.93,209.32 L144.76,209.42 L145.60,209.52 L146.44,209.62 L147.27,209.71 L148.11,209.81 L148.95,209.91 L149.78,210.01 L150.62,210.11 L151.46,210.21 L152.29,210.31 L153.13,210.40 L153.97,210.50 L154.80,210.60 L155.64,210.71 L156.48,210.81 L157.31,210.91 L158.15,211.01 L158.99,211.11 L159.82,211.21 L160.66,211.31 L161.50,211.42 L162.33,211.52 L163.17,211.62 L164.01,211.73 L164.84,211.83 L165.68,211.93 L166.52,212.04 L167.35,212.14 L168.19,212.25 L169.03,212.35 L169.86,212.46 L170.70,212.57 L171.54,212.67 L172.37,212.78 L173.21,212.89 L174.05,212.99 L174.88,213.10 L175.72,213.21 L176.56,213.32 L177.39,213.43 L178.23,213.53 L179.07,213.64 L179.90,213.75 L180.74,213.86 L181.58,213.97 L182.41,214.08 L183.25,214.20 L184.09,214.31 L184.92,214.42 L185.76,214.53 L186.59,214.64 L187.43,214.76 L188.27,214.87 L189.10,214.98 L189.94,215.10 L190.78,215.21 L191.61,215.33 L192.45,215.44 L193.29,215.56 L194.12,215.67 L194.96,215.79 L195.80,215.91 L196.63,216.02 L197.47,216.14 L198.31,216.26 L199.14,216.38 L199.98,216.49 L200.82,216.61 L201.65,216.73 L202.49,216.85 L203.32,216.97 L204.16,217.09 L205.00,217.21 L205.83,217.34 L206.67,217.46 L207.51,217.58 L208.34,217.70 L209.18,217.83 L210.02,217.95 L210.85,218.07 L211.69,218.20 L212.53,218.32 L213.36,218.45 L214.20,218.57 L215.03,218.70 L215.87,218.83 L216.71,218.95 L217.54,219.08 L218.38,219.21 L219.22,219.34 L220.05,219.47 L220.89,219.59 L221.73,219.72 L222.56,219.85 L223.40,219.99 L224.23,220.12 L225.07,220.25 L225.91,220.38 L226.74,220.51 L227.58,220.65 L228.42,220.78 L229.25,220.91 L230.09,221.05 L230.92,221.18 L231.76,221.32 L232.60,221.45 L233.43,221.59 L234.27,221.73 L235.11,221.86 L235.94,222.00 L236.78,222.14 L237.61,222.28 L238.45,222.42 L239.29,222.56 L240.12,222.70 L240.96,222.84 L241.80,222.98 L242.63,223.12 L243.47,223.26 L244.30,223.40 L245.14,223.55 L245.98,223.69 L246.81,223.84 L247.65,223.98 L248.49,224.13 L249.32,224.27 L250.16,224.42 L250.99,224.56 L251.83,224.71 L252.67,224.86 L253.50,225.01 L254.34,225.16 L255.18,225.31 L256.01,225.46 L256.85,225.61 L257.68,225.76 L258.52,225.91 L259.36,226.06 L260.19,226.22 L261.03,226.37 L261.86,226.52 L262.70,226.68 L263.54,226.83 L264.37,226.99 L265.21,227.14 L266.05,227.30 L266.88,227.46 L267.72,227.62 L268.55,227.77 L269.39,227.93 L270.23,228.09 L271.06,228.25 L271.90,228.41 L272.73,228.57 L273.57,228.74 L274.41,228.90 L275.24,229.06 L276.08,229.23 L276.91,229.39 L277.75,229.55 L278.59,229.72 L279.42,229.89 L280.26,230.05 L281.09,230.22 L281.93,230.39 L282.77,230.56 L283.60,230.72 L284.44,230.89 L285.28,231.06 L286.11,231.24 L286.95,231.41 L287.78,231.58 L288.62,231.75 L289.46,231.93 L290.29,232.10 L291.13,232.27 L291.96,232.45 L292.80,232.63 L293.64,232.80 L294.47,232.98 L295.31,233.16 L296.14,233.34 L296.98,233.51 L297.81,233.69 L298.65,233.87 L299.49,234.06 L300.32,234.24 L301.16,234.42 L301.99,234.60 L302.83,234.79 L303.67,234.97 L304.50,235.16 L305.34,235.34 L306.17,235.53 L307.01,235.71 L307.85,235.90 L308.68,236.09 L309.52,236.28 L310.35,236.47 L311.19,236.66 L312.03,236.85 L312.86,237.04 L313.70,237.24 L314.53,237.43 L315.37,237.62 L316.21,237.82 L317.04,238.01 L317.88,238.21 L318.71,238.40 L319.55,238.60 L320.38,238.80 L321.22,239.00 L322.06,239.20 L322.89,239.40 L323.73,239.60 L324.56,239.80 L325.40,240.00 L326.24,240.21 L327.07,240.41 L327.91,240.61 L328.74,240.82 L329.58,241.03 L330.41,241.23 L331.25,241.44 L332.09,241.65 L332.92,241.86 L333.76,242.07 L334.59,242.28 L335.43,242.49 L336.27,242.70 L337.10,242.91 L337.94,243.12 L338.77,243.34 L339.61,243.55 L340.44,243.77 L341.28,243.99 L342.12,244.20 L342.95,244.42 L343.79,244.64 L344.62,244.86 L345.46,245.08 L346.29,245.30 L347.13,245.52 L347.97,245.74 L348.80,245.97 L349.64,246.19 L350.47,246.42 L351.31,246.64 L352.14,246.87 L352.98,247.09 L353.82,247.32 L354.65,247.55 L355.49,247.78 L356.32,248.01 L357.16,248.24 L357.99,248.47 L358.83,248.71 L359.67,248.94 L360.50,249.17 L361.34,249.41 L362.17,249.65 L363.01,249.88 L363.84,250.12 L364.68,250.36 L365.52,250.60 L366.35,250.84 L367.19,251.08 L368.02,251.32 L368.86,251.56 L369.69,251.81 L370.53,252.05 L371.37,252.30 L372.20,252.54 L373.04,252.79 L373.87,253.04 L374.71,253.28 L375.54,253.53 L376.38,253.78 L377.22,254.03 L378.08,254.29 L379.09,254.57 L380.08,254.84 L381.06,255.11 L382.05,255.39 L383.03,255.67 L384.02,255.96 L385.00,256.25 L385.99,256.55 L386.98,256.85 L387.96,257.15 L388.95,257.46 L389.93,257.77 L390.91,258.09 L391.89,258.41 L392.88,258.74 L393.86,259.08 L394.85,259.42 L395.83,259.77 L396.82,260.11 L397.81,260.47 L398.80,260.82 L399.79,261.17 L400.79,261.53 L401.78,261.88 L402.77,262.24 L403.76,262.59 L404.76,262.94 L405.75,263.30 L406.74,263.65 L407.73,264.01 L408.72,264.36 L409.71,264.72 L410.70,265.08 L411.69,265.44 L412.69,265.79 L413.68,266.16 L414.67,266.52 L415.66,266.88 L416.65,267.24 L417.64,267.61 L418.63,267.98 L419.62,268.35 L420.61,268.72 L421.60,269.09 L422.59,269.46 L423.58,269.84 L424.56,270.21 L425.55,270.59 L426.54,270.97 L427.53,271.36 L428.52,271.74 L429.51,272.13 L430.50,272.52 L431.49,272.91 L432.48,273.30 L433.47,273.70 L434.46,274.10 L435.45,274.49 L436.44,274.90 L437.43,275.30 L438.42,275.70 L439.41,276.11 L440.40,276.52 L441.39,276.93 L442.38,277.34 L443.37,277.75 L444.35,278.17 L445.34,278.59 L446.33,279.00 L447.32,279.42 L448.31,279.85 L449.30,280.27 L450.29,280.69 L451.27,281.12 L452.26,281.56 L453.25,282.00 L454.24,282.44 L455.23,282.89 L456.22,283.33" fill="none" stroke="#ff0000" stroke-width="2" stroke-dasharray="6.6 6.3"/>
<path d="M44.50,75.77 L46.42,75.62 L48.33,75.47 L50.25,75.32 L52.17,75.18 L54.09,75.03 L56.00,74.88 L57.92,74.74 L59.84,74.59 L61.75,74.45 L63.67,74.30 L65.59,74.15 L67.51,74.01 L69.42,73.86 L71.34,73.71 L73.26,73.56 L75.17,73.41 L77.09,73.26 L79.01,73.10 L80.92,72.95 L82.84,72.79 L84.76,72.63 L86.68,72.48 L88.59,72.31 L90.51,72.15 L92.43,71.99 L94.34,71.82 L96.26,71.66 L98.18,71.49 L100.10,71.31 L102.01,71.14 L103.93,70.97 L105.85,70.79 L107.76,70.61 L109.68,70.43 L111.60,70.24 L113.52,70.06 L115.43,69.87 L117.35,69.68 L119.27,69.49 L121.18,69.29 L123.10,69.10 L125.02,68.90 L126.93,68.69 L128.85,68.49 L130.77,68.28 L132.69,68.08 L134.60,67.87 L136.52,67.65 L138.44,67.44 L140.35,67.22 L142.27,67.00 L144.19,66.78 L146.11,66.55 L148.02,66.32 L149.94,66.10 L151.86,65.86 L153.77,65.63 L155.69,65.39 L157.61,65.16 L159.53,64.92 L161.44,64.67 L163.36,64.43 L165.28,64.18 L167.19,63.93 L169.11,63.68 L171.03,63.43 L172.94,63.17 L174.86,62.92 L176.78,62.66 L178.70,62.40 L180.61,62.13 L182.53,61.87 L184.45,61.60 L186.36,61.33 L188.28,61.06 L190.20,60.79 L192.12,60.51 L194.03,60.24 L195.95,59.96 L197.87,59.68 L199.78,59.40 L201.70,59.11 L203.62,58.83 L205.54,58.54 L207.45,58.25 L209.37,57.96 L211.29,57.67 L213.20,57.37 L215.12,57.08 L217.04,56.78 L218.95,56.48 L220.87,56.18 L222.79,55.88 L224.71,55.57 L226.62,55.26 L228.54,54.96 L230.46,54.65 L232.37,54.34 L234.29,54.02 L236.21,53.71 L238.13,53.39 L240.04,53.07 L241.96,52.75 L243.88,52.43 L245.79,52.11 L247.71,51.78 L249.63,51.45 L251.55,51.12 L253.46,50.79 L255.38,50.46 L257.30,50.12 L259.21,49.78 L261.13,49.44 L263.05,49.10 L264.96,48.75 L266.88,48.41 L268.80,48.06 L270.72,47.71 L272.63,47.35 L274.55,46.99 L276.47,46.63 L278.38,46.27 L280.30,45.90 L282.22,45.53 L284.14,45.16 L286.05,44.78 L287.97,44.41 L289.89,44.02 L291.80,43.64 L293.72,43.25 L295.64,42.85 L297.56,42.45 L299.47,42.05 L301.39,41.65 L303.31,41.24 L305.22,40.82 L307.14,40.40 L309.06,39.98 L310.97,39.55 L312.89,39.11 L314.81,38.67 L316.73,38.22 L318.64,37.77 L320.56,37.31 L322.48,36.85 L324.39,36.38 L326.31,35.90 L328.23,35.42 L330.15,34.92 L332.06,34.43 L333.98,33.92 L335.90,33.40 L337.81,32.88 L339.73,32.35 L341.65,31.81 L343.57,31.26 L345.48,30.71 L347.40,30.14 L349.32,29.56 L351.23,28.98 L353.15,28.38 L355.07,27.77 L356.98,27.15 L358.90,26.52 L360.82,25.88 L362.74,25.23 L364.65,24.56 L366.57,23.88 L368.49,23.19 L370.40,22.48 L372.32,21.76 L374.24,21.03 L376.16,20.28 L378.07,19.51 L379.99,18.73 L381.91,17.94 L383.82,17.12 L385.74,16.29 L387.66,15.45 L389.58,14.58 L391.49,13.70 L393.41,12.80 L395.33,11.88 L397.24,10.94 L399.16,9.97 L401.08,8.99 L402.99,7.99 L404.91,6.96 L406.83,5.92 L408.75,4.85 L410.66,3.75 L412.58,2.63 L414.50,1.49 L416.41,0.32 L418.33,-0.87 L420.25,-2.10 L422.17,-3.34 L424.08,-4.62 L426.00,-5.93" fill="none" stroke="#ff0000" stroke-width="2.4"/>
<path d="M41.70,75.98 l3.59,-5.19 M48.63,75.45 l3.61,-5.22 M55.61,74.91 l3.64,-5.24 M62.63,74.38 l3.66,-5.27 M69.69,73.84 l3.68,-5.29 M76.80,73.28 l3.70,-5.32 M83.95,72.70 l3.73,-5.35 M91.15,72.10 l3.75,-5.37 M98.39,71.47 l3.77,-5.40 M105.68,70.80 l3.80,-5.43 M113.01,70.11 l3.82,-5.46 M120.39,69.37 l3.84,-5.48 M127.81,68.60 l3.87,-5.51 M135.29,67.79 l3.89,-5.54 M142.80,66.94 l3.91,-5.57 M150.37,66.04 l3.94,-5.59 M157.98,65.11 l3.96,-5.62 M165.64,64.13 l3.99,-5.65 M173.35,63.12 l4.01,-5.68 M181.11,62.06 l4.04,-5.71 M188.91,60.97 l4.06,-5.74 M196.76,59.84 l4.09,-5.77 M204.67,58.67 l4.11,-5.80 M212.62,57.46 l4.14,-5.83 M220.62,56.22 l4.16,-5.86 M228.67,54.94 l4.19,-5.89 M236.78,53.61 l4.21,-5.92 M244.93,52.25 l4.24,-5.95 M253.13,50.85 l4.27,-5.98 M261.39,49.40 l4.29,-6.01 M269.70,47.89 l4.32,-6.04 M278.06,46.33 l4.35,-6.07 M286.47,44.70 l4.37,-6.10 M294.93,43.00 l4.40,-6.13 M303.45,41.20 l4.43,-6.17 M312.02,39.31 l4.45,-6.20 M320.65,37.29 l4.48,-6.23 M329.32,35.14 l4.51,-6.26 M338.06,32.82 l4.54,-6.29 M346.84,30.31 l4.57,-6.33 M355.69,27.57 l4.59,-6.36 M364.58,24.58 l4.62,-6.39 M373.54,21.30 l4.65,-6.43 M382.54,17.67 l4.68,-6.46 M391.61,13.64 l4.71,-6.49 M400.73,9.17 l4.74,-6.53 M409.91,4.18 l4.77,-6.56 M419.15,-1.39 l4.80,-6.60" fill="none" stroke="#ff0000" stroke-width="1.1"/>
<path d="M44.50,186.31 L46.64,186.54 L48.79,186.76 L50.93,186.99 L53.07,187.21 L55.22,187.43 L57.36,187.65 L59.50,187.87 L61.65,188.08 L63.79,188.30 L65.93,188.52 L68.08,188.73 L70.22,188.95 L72.36,189.16 L74.51,189.37 L76.65,189.59 L78.79,189.80 L80.93,190.01 L83.08,190.22 L85.22,190.43 L87.36,190.64 L89.51,190.85 L91.65,191.06 L93.79,191.27 L95.94,191.47 L98.08,191.68 L100.22,191.89 L102.37,192.10 L104.51,192.30 L106.65,192.51 L108.80,192.72 L110.94,192.93 L113.08,193.13 L115.23,193.34 L117.37,193.55 L119.51,193.76 L121.66,193.97 L123.80,194.18 L125.94,194.38 L128.09,194.59 L130.23,194.80 L132.37,195.01 L134.52,195.22 L136.66,195.44 L138.80,195.65 L140.94,195.86 L143.09,196.07 L145.23,196.29 L147.37,196.50 L149.52,196.72 L151.66,196.93 L153.80,197.15 L155.95,197.37 L158.09,197.59 L160.23,197.81 L162.38,198.03 L164.52,198.25 L166.66,198.47 L168.81,198.70 L170.95,198.92 L173.09,199.15 L175.24,199.38 L177.38,199.61 L179.52,199.84 L181.67,200.07 L183.81,200.31 L185.95,200.54 L188.10,200.78 L190.24,201.02 L192.38,201.26 L194.53,201.50 L196.67,201.75 L198.81,201.99 L200.95,202.24 L203.10,202.49 L205.24,202.74 L207.38,202.99 L209.53,203.25 L211.67,203.51 L213.81,203.77 L215.96,204.03 L218.10,204.29 L220.24,204.56 L222.39,204.83 L224.53,205.10 L226.67,205.37 L228.82,205.64 L230.96,205.92 L233.10,206.20 L235.25,206.48 L237.39,206.77 L239.53,207.06 L241.68,207.35 L243.82,207.64 L245.96,207.94 L248.11,208.24 L250.25,208.54 L252.39,208.84 L254.54,209.15 L256.68,209.46 L258.82,209.77 L260.96,210.09 L263.11,210.41 L265.25,210.73 L267.39,211.06 L269.54,211.39 L271.68,211.72 L273.82,212.05 L275.97,212.39 L278.11,212.73 L280.25,213.08 L282.40,213.43 L284.54,213.78 L286.68,214.14 L288.83,214.50 L290.97,214.86 L293.11,215.23 L295.26,215.60 L297.40,215.97 L299.54,216.35 L301.69,216.73 L303.83,217.12 L305.97,217.51 L308.12,217.90 L310.26,218.30 L312.40,218.70 L314.55,219.11 L316.69,219.52 L318.83,219.94 L320.97,220.35 L323.12,220.78 L325.26,221.20 L327.40,221.64 L329.55,222.07 L331.69,222.51 L333.83,222.96 L335.98,223.41 L338.12,223.86 L340.26,224.32 L342.41,224.79 L344.55,225.25 L346.69,225.73 L348.84,226.20 L350.98,226.69 L353.12,227.17 L355.27,227.67 L357.41,228.16 L359.55,228.67 L361.70,229.17 L363.84,229.69 L365.98,230.20 L368.13,230.73 L370.27,231.26 L372.41,231.79 L374.56,232.33 L376.70,232.87 L378.84,233.42 L380.98,233.98 L383.13,234.54 L385.27,235.10 L387.41,235.67 L389.56,236.25 L391.70,236.83 L393.84,237.42 L395.99,238.02 L398.13,238.62 L400.27,239.22 L402.42,239.84 L404.56,240.45 L406.70,241.08 L408.85,241.71 L410.99,242.34 L413.13,242.98 L415.28,243.63 L417.42,244.29 L419.56,244.95 L421.71,245.61 L423.85,246.29 L425.99,246.96 L428.14,247.65 L430.28,248.34 L432.42,249.04 L434.57,249.75 L436.71,250.46 L438.85,251.18 L440.99,251.90 L443.14,252.63 L445.28,253.37 L447.42,254.12 L449.57,254.87 L451.71,255.63 L453.85,256.39 L456.00,257.16 L458.14,257.94 L460.28,258.73 L462.43,259.52 L464.57,260.32 L466.71,261.13 L468.86,261.95 L471.00,262.77" fill="none" stroke="#ff0000" stroke-width="2.4"/>
<path d="M43.60,186.22 l2.90,-4.90 M49.80,186.87 l2.90,-4.90 M55.99,187.51 l2.90,-4.90 M62.17,188.14 l2.90,-4.90 M68.34,188.76 l2.91,-4.89 M74.51,189.37 l2.91,-4.89 M80.66,189.98 l2.91,-4.89 M86.80,190.58 l2.91,-4.89 M92.93,191.18 l2.91,-4.89 M99.05,191.78 l2.91,-4.89 M105.16,192.37 l2.91,-4.89 M111.26,192.96 l2.92,-4.88 M117.35,193.55 l2.92,-4.88 M123.43,194.14 l2.92,-4.88 M129.50,194.73 l2.92,-4.88 M135.56,195.33 l2.92,-4.88 M141.61,195.93 l2.92,-4.88 M147.65,196.53 l2.92,-4.88 M153.68,197.14 l2.93,-4.87 M159.70,197.75 l2.93,-4.87 M165.71,198.38 l2.93,-4.87 M171.72,199.01 l2.93,-4.87 M177.71,199.64 l2.93,-4.87 M183.69,200.29 l2.93,-4.87 M189.66,200.95 l2.93,-4.87 M195.62,201.63 l2.94,-4.86 M201.57,202.31 l2.94,-4.86 M207.52,203.01 l2.94,-4.86 M213.45,203.72 l2.94,-4.86 M219.37,204.45 l2.94,-4.86 M225.28,205.19 l2.94,-4.86 M231.19,205.95 l2.94,-4.86 M237.08,206.73 l2.95,-4.85 M242.96,207.52 l2.95,-4.85 M248.84,208.34 l2.95,-4.85 M254.70,209.17 l2.95,-4.85 M260.56,210.03 l2.95,-4.85 M266.40,210.91 l2.95,-4.85 M272.24,211.81 l2.95,-4.85 M278.07,212.73 l2.95,-4.85 M283.88,213.67 l2.96,-4.84 M289.69,214.64 l2.96,-4.84 M295.49,215.64 l2.96,-4.84 M301.28,216.66 l2.96,-4.84 M307.05,217.71 l2.96,-4.84 M312.82,218.78 l2.96,-4.84 M318.58,219.89 l2.96,-4.84 M324.33,221.02 l2.97,-4.83 M330.07,222.18 l2.97,-4.83 M335.80,223.37 l2.97,-4.83 M341.53,224.59 l2.97,-4.83 M347.24,225.85 l2.97,-4.83 M352.94,227.13 l2.97,-4.83 M358.64,228.45 l2.97,-4.83 M364.32,229.80 l2.97,-4.83 M370.00,231.19 l2.98,-4.82 M375.66,232.61 l2.98,-4.82 M381.32,234.06 l2.98,-4.82 M386.97,235.55 l2.98,-4.82 M392.60,237.08 l2.98,-4.82 M398.23,238.65 l2.98,-4.82 M403.85,240.25 l2.98,-4.82 M409.46,241.89 l2.99,-4.81 M415.06,243.57 l2.99,-4.81 M420.65,245.28 l2.99,-4.81 M426.24,247.04 l2.99,-4.81 M431.81,248.84 l2.99,-4.81 M437.37,250.68 l2.99,-4.81 M442.93,252.56 l2.99,-4.81 M448.48,254.48 l2.99,-4.81 M454.01,256.45 l3.00,-4.80 M459.54,258.46 l3.00,-4.80 M465.06,260.51 l3.00,-4.80 M470.57,262.60 l3.00,-4.80" fill="none" stroke="#ff0000" stroke-width="1.1"/>
<path d="M44.50,261.47 L46.64,261.23 L48.79,260.98 L50.93,260.73 L53.07,260.48 L55.22,260.23 L57.36,259.98 L59.50,259.73 L61.65,259.48 L63.79,259.23 L65.93,258.97 L68.08,258.72 L70.22,258.46 L72.36,258.21 L74.51,257.95 L76.65,257.69 L78.79,257.43 L80.93,257.17 L83.08,256.91 L85.22,256.64 L87.36,256.38 L89.51,256.11 L91.65,255.84 L93.79,255.58 L95.94,255.30 L98.08,255.03 L100.22,254.76 L102.37,254.48 L104.51,254.20 L106.65,253.93 L108.80,253.64 L110.94,253.36 L113.08,253.08 L115.23,252.79 L117.37,252.50 L119.51,252.21 L121.66,251.92 L123.80,251.63 L125.94,251.33 L128.09,251.03 L130.23,250.73 L132.37,250.43 L134.52,250.12 L136.66,249.81 L138.80,249.50 L140.94,249.19 L143.09,248.88 L145.23,248.56 L147.37,248.24 L149.52,247.92 L151.66,247.59 L153.80,247.27 L155.95,246.94 L158.09,246.60 L160.23,246.27 L162.38,245.93 L164.52,245.59 L166.66,245.24 L168.81,244.90 L170.95,244.55 L173.09,244.19 L175.24,243.84 L177.38,243.48 L179.52,243.12 L181.67,242.75 L183.81,242.38 L185.95,242.01 L188.10,241.64 L190.24,241.26 L192.38,240.88 L194.53,240.49 L196.67,240.10 L198.81,239.71 L200.95,239.31 L203.10,238.92 L205.24,238.51 L207.38,238.11 L209.53,237.70 L211.67,237.28 L213.81,236.86 L215.96,236.44 L218.10,236.02 L220.24,235.59 L222.39,235.15 L224.53,234.72 L226.67,234.28 L228.82,233.83 L230.96,233.38 L233.10,232.93 L235.25,232.47 L237.39,232.01 L239.53,231.54 L241.68,231.07 L243.82,230.60 L245.96,230.12 L248.11,229.63 L250.25,229.14 L252.39,228.65 L254.54,228.15 L256.68,227.65 L258.82,227.15 L260.96,226.63 L263.11,226.12 L265.25,225.60 L267.39,225.07 L269.54,224.54 L271.68,224.01 L273.82,223.47 L275.97,222.92 L278.11,222.37 L280.25,221.82 L282.40,221.26 L284.54,220.69 L286.68,220.12 L288.83,219.54 L290.97,218.96 L293.11,218.38 L295.26,217.78 L297.40,217.19 L299.54,216.58 L301.69,215.98 L303.83,215.36 L305.97,214.74 L308.12,214.12 L310.26,213.49 L312.40,212.86 L314.55,212.22 L316.69,211.58 L318.83,210.93 L320.97,210.28 L323.12,209.63 L325.26,208.97 L327.40,208.31 L329.55,207.64 L331.69,206.97 L333.83,206.30 L335.98,205.62 L338.12,204.94 L340.26,204.26 L342.41,203.58 L344.55,202.89 L346.69,202.20 L348.84,201.50 L350.98,200.80 L353.12,200.10 L355.27,199.39 L357.41,198.68 L359.55,197.96 L361.70,197.24 L363.84,196.51 L365.98,195.78 L368.13,195.04 L370.27,194.29 L372.41,193.54 L374.56,192.78 L376.70,192.01 L378.84,191.24 L380.98,190.46 L383.13,189.67 L385.27,188.87 L387.41,188.06 L389.56,187.25 L391.70,186.42 L393.84,185.59 L395.99,184.74 L398.13,183.88 L400.27,183.01 L402.42,182.13 L404.56,181.24 L406.70,180.34 L408.85,179.42 L410.99,178.49 L413.13,177.54 L415.28,176.59 L417.42,175.62 L419.56,174.63 L421.71,173.63 L423.85,172.61 L425.99,171.58 L428.14,170.53 L430.28,169.47 L432.42,168.39 L434.57,167.29 L436.71,166.17 L438.85,165.04 L440.99,163.88 L443.14,162.71 L445.28,161.52 L447.42,160.31 L449.57,159.09 L451.71,157.84 L453.85,156.57 L456.00,155.28 L458.14,153.96 L460.28,152.63 L462.43,151.27 L464.57,149.90 L466.71,148.50 L468.86,147.07 L471.00,145.62" fill="none" stroke="#000080" stroke-width="2.4"/>
<path d="M47.60,261.12 l-2.89,-5.30 M52.79,260.51 l-2.87,-5.30 M57.98,259.91 l-2.86,-5.30 M63.16,259.30 l-2.84,-5.30 M68.33,258.69 l-2.82,-5.30 M73.49,258.07 l-2.80,-5.30 M78.64,257.45 l-2.79,-5.30 M83.79,256.82 l-2.77,-5.30 M88.92,256.19 l-2.75,-5.30 M94.05,255.54 l-2.74,-5.30 M99.17,254.89 l-2.72,-5.30 M104.28,254.24 l-2.70,-5.30 M109.38,253.57 l-2.69,-5.30 M114.47,252.89 l-2.67,-5.30 M119.56,252.21 l-2.65,-5.30 M124.63,251.51 l-2.64,-5.30 M129.70,250.80 l-2.62,-5.30 M134.76,250.09 l-2.60,-5.30 M139.82,249.36 l-2.59,-5.30 M144.86,248.62 l-2.57,-5.30 M149.89,247.86 l-2.55,-5.30 M154.92,247.09 l-2.54,-5.30 M159.94,246.31 l-2.52,-5.30 M164.95,245.52 l-2.50,-5.30 M169.95,244.71 l-2.49,-5.30 M174.95,243.89 l-2.47,-5.30 M179.93,243.05 l-2.46,-5.30 M184.91,242.19 l-2.44,-5.30 M189.88,241.32 l-2.42,-5.30 M194.84,240.43 l-2.41,-5.30 M199.79,239.53 l-2.39,-5.30 M204.74,238.61 l-2.37,-5.30 M209.68,237.67 l-2.36,-5.30 M214.61,236.71 l-2.34,-5.30 M219.53,235.73 l-2.33,-5.30 M224.44,234.74 l-2.31,-5.30 M229.34,233.72 l-2.29,-5.30 M234.24,232.69 l-2.28,-5.30 M239.13,231.63 l-2.26,-5.30 M244.01,230.55 l-2.25,-5.30 M248.88,229.46 l-2.23,-5.30 M253.75,228.34 l-2.21,-5.30 M258.60,227.20 l-2.20,-5.30 M263.45,226.04 l-2.18,-5.30 M268.29,224.85 l-2.17,-5.30 M273.13,223.64 l-2.15,-5.30 M277.95,222.41 l-2.13,-5.30 M282.77,221.16 l-2.12,-5.30 M287.58,219.88 l-2.10,-5.30 M292.38,218.58 l-2.09,-5.30 M297.17,217.25 l-2.07,-5.30 M301.96,215.90 l-2.05,-5.30 M306.73,214.52 l-2.04,-5.30 M311.50,213.13 l-2.02,-5.30 M316.26,211.71 l-2.01,-5.30 M321.02,210.27 l-1.99,-5.30 M325.76,208.81 l-1.98,-5.30 M330.50,207.34 l-1.96,-5.30 M335.23,205.86 l-1.95,-5.30 M339.96,204.36 l-1.93,-5.30 M344.67,202.85 l-1.91,-5.30 M349.38,201.32 l-1.90,-5.30 M354.08,199.78 l-1.88,-5.30 M358.77,198.22 l-1.87,-5.30 M363.45,196.64 l-1.85,-5.30 M368.13,195.04 l-1.84,-5.30 M372.80,193.40 l-1.82,-5.30 M377.46,191.74 l-1.81,-5.30 M382.11,190.04 l-1.79,-5.30 M386.76,188.31 l-1.78,-5.30 M391.40,186.54 l-1.76,-5.30 M396.03,184.72 l-1.75,-5.30 M400.65,182.86 l-1.73,-5.30 M405.27,180.94 l-1.72,-5.30 M409.88,178.97 l-1.70,-5.30 M414.48,176.95 l-1.69,-5.30 M419.07,174.86 l-1.67,-5.30 M423.65,172.71 l-1.66,-5.30 M428.23,170.48 l-1.64,-5.30 M432.80,168.19 l-1.63,-5.30 M437.36,165.83 l-1.61,-5.30 M441.92,163.38 l-1.60,-5.30 M446.47,160.86 l-1.58,-5.30 M451.01,158.25 l-1.57,-5.30 M455.54,155.55 l-1.55,-5.30 M460.07,152.77 l-1.54,-5.30 M464.58,149.89 l-1.52,-5.30 M469.09,146.91 l-1.51,-5.30" fill="none" stroke="#000080" stroke-width="1.25"/>
<path d="M44.50,154.76 L46.05,154.23 L47.59,153.70 L49.14,153.19 L50.68,152.70 L52.23,152.22 L53.77,151.75 L55.32,151.28 L56.86,150.83 L58.41,150.38 L59.95,149.94 L61.50,149.51 L63.04,149.08 L64.59,148.65 L66.13,148.23 L67.68,147.81 L69.22,147.39 L70.77,146.97 L72.31,146.56 L73.86,146.14 L75.40,145.72 L76.95,145.30 L78.49,144.88 L80.04,144.45 L81.59,144.03 L83.13,143.60 L84.68,143.16 L86.22,142.73 L87.77,142.29 L89.31,141.84 L90.86,141.40 L92.40,140.94 L93.95,140.48 L95.49,140.02 L97.04,139.55 L98.58,139.08 L100.13,138.61 L101.67,138.12 L103.22,137.64 L104.76,137.14 L106.31,136.65 L107.85,136.14 L109.40,135.64 L110.94,135.12 L112.49,134.61 L114.04,134.08 L115.58,133.56 L117.13,133.02 L118.67,132.49 L120.22,131.95 L121.76,131.40 L123.31,130.85 L124.85,130.29 L126.40,129.74 L127.94,129.17 L129.49,128.61 L131.03,128.04 L132.58,127.46 L134.12,126.89 L135.67,126.31 L137.21,125.72 L138.76,125.13 L140.30,124.54 L141.85,123.95 L143.39,123.36 L144.94,122.76 L146.48,122.16 L148.03,121.56 L149.58,120.95 L151.12,120.34 L152.67,119.74 L154.21,119.12 L155.76,118.51 L157.30,117.90 L158.85,117.28 L160.39,116.66 L161.94,116.04 L163.48,115.42 L165.03,114.80 L166.57,114.18 L168.12,113.55 L169.66,112.93 L171.21,112.30 L172.75,111.67 L174.30,111.04 L175.84,110.41 L177.39,109.77 L178.93,109.14 L180.48,108.50 L182.03,107.87 L183.57,107.23 L185.12,106.58 L186.66,105.94 L188.21,105.30 L189.75,104.65 L191.30,104.00 L192.84,103.35 L194.39,102.69 L195.93,102.04 L197.48,101.38 L199.02,100.71 L200.57,100.05 L202.11,99.38 L203.66,98.71 L205.20,98.03 L206.75,97.35 L208.29,96.67 L209.84,95.98 L211.38,95.28 L212.93,94.59 L214.47,93.88 L216.02,93.17 L217.57,92.46 L219.11,91.74 L220.66,91.01 L222.20,90.28 L223.75,89.54 L225.29,88.79 L226.84,88.04 L228.38,87.28 L229.93,86.51 L231.47,85.73 L233.02,84.94 L234.56,84.15 L236.11,83.34 L237.65,82.53 L239.20,81.70 L240.74,80.87 L242.29,80.03 L243.83,79.17 L245.38,78.30 L246.92,77.43 L248.47,76.54 L250.02,75.64 L251.56,74.72 L253.11,73.80 L254.65,72.86 L256.20,71.91 L257.74,70.94 L259.29,69.97 L260.83,68.98 L262.38,67.97 L263.92,66.95 L265.47,65.92 L267.01,64.87 L268.56,63.81 L270.10,62.73 L271.65,61.64 L273.19,60.54 L274.74,59.42 L276.28,58.28 L277.83,57.13 L279.37,55.97 L280.92,54.79 L282.46,53.60 L284.01,52.39 L285.56,51.17 L287.10,49.93 L288.65,48.68 L290.19,47.41 L291.74,46.13 L293.28,44.84 L294.83,43.54 L296.37,42.22 L297.92,40.89 L299.46,39.55 L301.01,38.19 L302.55,36.83 L304.10,35.46 L305.64,34.07 L307.19,32.68 L308.73,31.28 L310.28,29.87 L311.82,28.46 L313.37,27.04 L314.91,25.61 L316.46,24.18 L318.01,22.75 L319.55,21.32 L321.10,19.89 L322.64,18.45 L324.19,17.02 L325.73,15.60 L327.28,14.18 L328.82,12.76 L330.37,11.35 L331.91,9.96 L333.46,8.57 L335.00,7.20 L336.55,5.84 L338.09,4.50 L339.64,3.18 L341.18,1.89 L342.73,0.61 L344.27,-0.64 L345.82,-1.86 L347.36,-3.04 L348.91,-4.20 L350.45,-5.32 L352.00,-6.40" fill="none" stroke="#007d00" stroke-width="2.4"/>
<path d="M47.00,153.90 l-0.61,-5.90 M51.70,152.38 l-0.63,-5.90 M56.39,150.97 l-0.64,-5.89 M61.07,149.63 l-0.66,-5.89 M65.75,148.34 l-0.68,-5.89 M70.42,147.07 l-0.69,-5.88 M75.09,145.81 l-0.71,-5.88 M79.75,144.53 l-0.73,-5.88 M84.40,143.24 l-0.74,-5.87 M89.05,141.92 l-0.76,-5.87 M93.69,140.56 l-0.78,-5.87 M98.33,139.16 l-0.79,-5.86 M102.96,137.72 l-0.81,-5.86 M107.58,136.23 l-0.83,-5.86 M112.20,134.70 l-0.84,-5.86 M116.81,133.13 l-0.86,-5.85 M121.42,131.52 l-0.88,-5.85 M126.02,129.87 l-0.89,-5.85 M130.61,128.19 l-0.91,-5.84 M135.20,126.48 l-0.92,-5.84 M139.78,124.74 l-0.94,-5.84 M144.36,122.98 l-0.96,-5.84 M148.93,121.20 l-0.97,-5.83 M153.49,119.41 l-0.99,-5.83 M158.05,117.60 l-1.01,-5.83 M162.60,115.78 l-1.02,-5.82 M167.15,113.95 l-1.04,-5.82 M171.69,112.10 l-1.05,-5.82 M176.23,110.25 l-1.07,-5.81 M180.75,108.39 l-1.09,-5.81 M185.28,106.52 l-1.10,-5.81 M189.79,104.63 l-1.12,-5.81 M194.30,102.73 l-1.14,-5.80 M198.81,100.81 l-1.15,-5.80 M203.31,98.86 l-1.17,-5.80 M207.80,96.89 l-1.18,-5.79 M212.29,94.88 l-1.20,-5.79 M216.77,92.83 l-1.22,-5.79 M221.25,90.73 l-1.23,-5.79 M225.72,88.59 l-1.25,-5.78 M230.18,86.38 l-1.26,-5.78 M234.64,84.11 l-1.28,-5.78 M239.09,81.76 l-1.30,-5.77 M243.54,79.33 l-1.31,-5.77 M247.98,76.82 l-1.33,-5.77 M252.42,74.21 l-1.34,-5.76 M256.85,71.50 l-1.36,-5.76 M261.27,68.69 l-1.38,-5.76 M265.69,65.77 l-1.39,-5.76 M270.10,62.74 l-1.41,-5.75 M274.51,59.59 l-1.42,-5.75 M278.91,56.32 l-1.44,-5.75 M283.30,52.94 l-1.45,-5.74 M287.69,49.45 l-1.47,-5.74 M292.08,45.85 l-1.49,-5.74 M296.45,42.15 l-1.50,-5.74 M300.83,38.35 l-1.52,-5.73 M305.19,34.48 l-1.53,-5.73 M309.55,30.53 l-1.55,-5.73 M313.91,26.54 l-1.56,-5.72 M318.26,22.52 l-1.58,-5.72 M322.60,18.49 l-1.59,-5.72 M326.94,14.48 l-1.61,-5.72 M331.27,10.53 l-1.63,-5.71 M335.60,6.67 l-1.64,-5.71 M339.92,2.94 l-1.66,-5.71 M344.24,-0.61 l-1.67,-5.71 M348.55,-3.93 l-1.69,-5.70" fill="none" stroke="#007d00" stroke-width="1.1"/>
</g>
<path d="M44.65,0 V281.9" fill="none" stroke="#000" stroke-width="1.2"/>
<path d="M44.05,281.35 H471" fill="none" stroke="#000" stroke-width="1.1"/>
<path d="M44.5,0.3 H471" fill="none" stroke="#000" stroke-width="1" opacity="0.75"/>
<path d="M470.5,0 V281.3" fill="none" stroke="#000" stroke-width="1"/>
<path d="M44.5,42.9 h4.7 M470.5,42.9 h-5.2" stroke="#000" stroke-width="1" opacity="0.65"/>
<path d="M44.5,86.4 h4.7 M470.5,86.4 h-5.2" stroke="#000" stroke-width="1" opacity="0.65"/>
<path d="M44.5,129.8 h4.7 M470.5,129.8 h-5.2" stroke="#000" stroke-width="1" opacity="0.65"/>
<path d="M44.5,173.3 h4.7 M470.5,173.3 h-5.2" stroke="#000" stroke-width="1" opacity="0.65"/>
<path d="M44.5,216.7 h4.7 M470.5,216.7 h-5.2" stroke="#000" stroke-width="1" opacity="0.65"/>
<path d="M44.5,260.2 h4.7 M470.5,260.2 h-5.2" stroke="#000" stroke-width="1" opacity="0.65"/>
<path d="M196.6,281.3 v-4.7 M196.6,0.5 v4" stroke="#000" stroke-width="1" opacity="0.65"/>
<path d="M348.7,281.3 v-4.7 M348.7,0.5 v4" stroke="#000" stroke-width="1" opacity="0.65"/>
<rect x="56.5" y="10.3" width="32.6" height="21.3" fill="#8080b3" stroke="#333" stroke-width="0.8"/>
<rect x="56.5" y="37.4" width="32.6" height="21" fill="#b2e8b2" stroke="#333" stroke-width="0.8"/>
<g mask="url(#tm)">
<text x="40.3" y="47.6" font-family="Liberation Serif, serif" font-size="13.3" text-anchor="end" fill="#262626" >2.4</text>
<text x="40.3" y="91.10000000000001" font-family="Liberation Serif, serif" font-size="13.3" text-anchor="end" fill="#262626" >2.2</text>
<text x="40.3" y="134.5" font-family="Liberation Serif, serif" font-size="13.3" text-anchor="end" fill="#262626" >2</text>
<text x="40.3" y="178.0" font-family="Liberation Serif, serif" font-size="13.3" text-anchor="end" fill="#262626" >1.8</text>
<text x="40.3" y="221.39999999999998" font-family="Liberation Serif, serif" font-size="13.3" text-anchor="end" fill="#262626" >1.6</text>
<text x="40.3" y="264.9" font-family="Liberation Serif, serif" font-size="13.3" text-anchor="end" fill="#262626" >1.4</text>
<text x="31.3" y="301.9" font-family="Liberation Serif, serif" font-size="13.1" fill="#262626">10<tspan dy="-6.4" dx="-0.2" font-size="8.7">−10</tspan></text>
<text x="185.2" y="301.9" font-family="Liberation Serif, serif" font-size="13.1" fill="#262626">10<tspan dy="-6.4" dx="-0.2" font-size="8.7">−5</tspan></text>
<text x="339.4" y="301.9" font-family="Liberation Serif, serif" font-size="13.1" fill="#262626">10<tspan dy="-6.4" dx="-0.2" font-size="8.7">0</tspan></text>
<text x="92.2" y="24.8" font-family="Liberation Serif, serif" font-size="13.3" fill="#262626">σ<tspan dy="5.6" font-size="9.3">0</tspan><tspan dy="-5.6">=10</tspan><tspan dy="-6.6" font-size="10">−36</tspan><tspan dy="6.6" dx="-1"> cm</tspan><tspan dy="-6.6" font-size="10">2</tspan></text>
<text x="92.2" y="52.1" font-family="Liberation Serif, serif" font-size="13.3" fill="#262626">σ<tspan dy="5.6" font-size="9.3">0</tspan><tspan dy="-5.6">=10</tspan><tspan dy="-6.6" font-size="10">−32</tspan><tspan dy="6.6" dx="-1"> cm</tspan><tspan dy="-6.6" font-size="10">2</tspan></text>
<text transform="translate(15.2,142) rotate(-90) scale(1.25,1.03)" font-family="Liberation Serif, serif" font-size="17" font-style="italic" text-anchor="middle" fill="#222">β</text>
<text x="229.3" y="321" font-family="Liberation Serif, serif" font-size="19.3" font-style="italic" letter-spacing="0.7" fill="#2a2a2a">M/M</text>
<circle cx="275.2" cy="319.7" r="4.5" fill="none" stroke="#222" stroke-width="0.8"/><circle cx="275.2" cy="319.7" r="0.95" fill="#222"/>
<text x="331" y="271.8" font-family="Liberation Serif, serif" font-size="12.6" text-anchor="start" fill="#262626" >Ω≥ 0.2</text>
</g>
</svg></body></html>
